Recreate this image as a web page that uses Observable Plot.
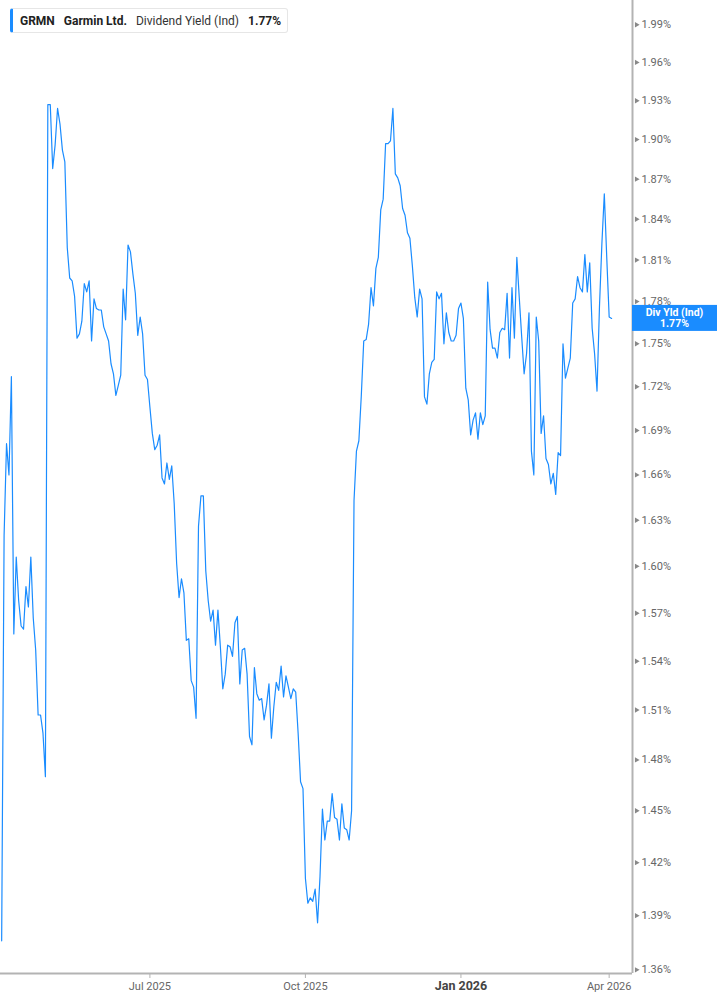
<!DOCTYPE html>
<html>
<head>
<meta charset="utf-8">
<script src="https://cdn.jsdelivr.net/npm/d3@7"></script>
<script src="https://cdn.jsdelivr.net/npm/@observablehq/plot@0.6"></script>
<style>
  html, body { margin: 0; padding: 0; background: #fff; }
  #wrap { position: relative; width: 717px; height: 1005px; font-family: Roboto, "Noto Sans", sans-serif; }
  #legend {
    position: absolute; left: 10px; top: 8px; height: 25px;
    box-sizing: border-box; border: 1px solid #e6e6e6; border-left: 3px solid #1a8cff;
    border-radius: 3px; background: #fff; padding: 0 6px 0 7px;
    display: flex; align-items: center; font-size: 12px; color: #333; white-space: nowrap;
  }
  #legend span { margin-right: 9px; }
  #legend span:last-child { margin-right: 0; }
  #legend b { color: #222; font-weight: 700; }
</style>
</head>
<body>
<div id="wrap">
  <div id="chart"></div>
  <div id="legend">
    <span><b>GRMN</b></span><span><b>Garmin Ltd.</b></span><span>Dividend Yield (Ind)</span><span><b>1.77%</b></span>
  </div>
</div>
<script>
// Daily dividend yield (%), one value per trading day, Apr 2025 – Apr 2026
const values = [
1.376,1.620,1.681,1.660,1.727,1.557,1.606,1.578,1.562,1.560,
1.587,1.574,1.606,1.567,1.547,1.507,1.507,1.496,1.470,1.927,
1.927,1.878,1.896,1.924,1.912,1.892,1.883,1.819,1.797,1.795,
1.784,1.754,1.757,1.766,1.793,1.787,1.795,1.752,1.782,1.775,
1.774,1.774,1.762,1.757,1.752,1.736,1.729,1.714,1.721,1.728,
1.789,1.767,1.821,1.816,1.800,1.786,1.756,1.769,1.757,1.728,
1.725,1.706,1.688,1.677,1.680,1.687,1.658,1.654,1.668,1.657,
1.666,1.641,1.602,1.580,1.592,1.583,1.553,1.554,1.528,1.524,
1.505,1.626,1.646,1.646,1.597,1.578,1.565,1.572,1.550,1.572,
1.549,1.523,1.532,1.550,1.549,1.543,1.564,1.568,1.526,1.547,
1.548,1.532,1.494,1.489,1.536,1.520,1.516,1.517,1.504,1.513,
1.526,1.493,1.512,1.527,1.522,1.537,1.518,1.531,1.524,1.517,
1.523,1.521,1.496,1.467,1.463,1.411,1.397,1.400,1.398,1.405,
1.386,1.412,1.451,1.433,1.444,1.444,1.460,1.446,1.445,1.433,
1.454,1.440,1.439,1.433,1.450,1.643,1.676,1.683,1.714,1.752,
1.753,1.764,1.790,1.777,1.804,1.812,1.847,1.855,1.897,1.897,
1.899,1.924,1.874,1.871,1.865,1.848,1.843,1.830,1.826,1.806,
1.783,1.769,1.789,1.782,1.713,1.708,1.729,1.737,1.739,1.787,
1.782,1.786,1.750,1.772,1.758,1.752,1.752,1.756,1.775,1.779,
1.768,1.719,1.711,1.687,1.697,1.702,1.684,1.702,1.694,1.700,
1.794,1.760,1.747,1.747,1.740,1.758,1.761,1.760,1.786,1.740,
1.790,1.754,1.812,1.783,1.755,1.729,1.743,1.772,1.676,1.660,
1.769,1.752,1.688,1.700,1.671,1.667,1.654,1.661,1.647,1.675,
1.673,1.750,1.726,1.733,1.740,1.779,1.782,1.798,1.790,1.787,
1.814,1.787,1.808,1.761,1.743,1.717,1.776,1.822,1.859,1.812,
1.769,1.768
];

// x ticks: trading-day index of each month start
const xTickIdx = [61, 125, 189, 250];
const xTickLabels = ["Jul 2025", "Oct 2025", "Jan 2026", "Apr 2026"];
const xBoldLabel = "Jan 2026";

// y ticks (%)
const yTicks = [1.36,1.39,1.42,1.45,1.48,1.51,1.54,1.57,1.60,1.63,1.66,1.69,1.72,1.75,1.78,1.81,1.84,1.87,1.90,1.93,1.96,1.99];

const seriesName = "Div Yld (Ind)";
const lastValue = values[values.length - 1];

const xDomain = [-0.48, 259.6];
const yDomain = [1.358, 2.0095];
const blue = "#1a8cff";
const axisGray = "#b3b3b3";

const data = values.map((v, i) => ({i, v}));
const labelIdx = xTickIdx.map((d, k) => ({d, label: xTickLabels[k]}));

const lastLabel = (index, scales, vals, dimensions) => {
  const y = scales.y(lastValue);
  const x0 = dimensions.width - dimensions.marginRight;
  const w = dimensions.marginRight;
  const g = d3.create("svg:g");
  g.append("rect").attr("x", x0).attr("y", y - 13).attr("width", w).attr("height", 26).attr("fill", blue);
  const t = g.append("text").attr("text-anchor", "middle").attr("fill", "#fff")
    .attr("font-weight", "bold").attr("font-size", 10.5);
  t.append("tspan").attr("x", x0 + w / 2).attr("y", y - 5.3).attr("dy", "0.35em").text(seriesName);
  t.append("tspan").attr("x", x0 + w / 2).attr("y", y + 5.5).attr("dy", "0.35em").text(lastValue.toFixed(2) + "%");
  return g.node();
};

const chart = Plot.plot({
  width: 717,
  height: 1005,
  marginLeft: 0,
  marginRight: 85,
  marginTop: 0,
  marginBottom: 32,
  style: {fontFamily: "Roboto, 'Noto Sans', sans-serif", fontSize: "11px", background: "#fff"},
  x: {type: "linear", domain: xDomain, axis: null, label: null},
  y: {type: "log", domain: yDomain, axis: null, label: null},
  marks: [
    Plot.line(data, {x: "i", y: "v", stroke: blue, strokeWidth: 1.2}),
    Plot.ruleY([yDomain[0]], {stroke: axisGray, strokeWidth: 2}),
    Plot.ruleX([xDomain[1]], {stroke: axisGray, strokeWidth: 2}),
    Plot.dot(yTicks, {x: () => xDomain[1], y: d => d, symbol: "triangle", r: 2, rotate: 90, fill: "#888", stroke: null, dx: 4}),
    Plot.axisY(yTicks, {anchor: "right", label: null, tickSize: 0, tickPadding: 9, tickFormat: d => d.toFixed(2) + "%", fill: "#666", fontSize: 11}),
    Plot.axisX(xTickIdx, {anchor: "bottom", label: null, tickSize: 5, tickPadding: 4, stroke: axisGray,
      tickFormat: (d, k) => xTickLabels[k] === xBoldLabel ? "" : xTickLabels[k], fill: "#666", fontSize: 11}),
    Plot.text(labelIdx.filter(t => t.label === xBoldLabel), {x: "d", text: "label", frameAnchor: "bottom", dy: 16,
      fontWeight: "bold", fontSize: 12.5, fill: "#444"}),
    lastLabel
  ]
});
document.getElementById("chart").appendChild(chart);
</script>
</body>
</html>
